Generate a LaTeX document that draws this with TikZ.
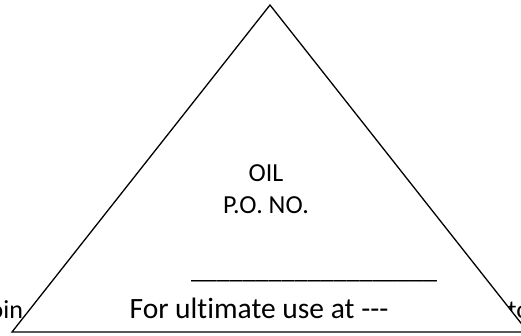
\documentclass[tikz,border=0pt]{standalone}
\usepackage{fontspec}
\setmainfont{Carlito}[Ligatures=NoCommon]
\begin{document}
\begin{tikzpicture}[x=1pt,y=-1pt,
  txt/.style={inner sep=0pt,outer sep=0pt,font=\fontsize{26}{30}\selectfont},
  big/.style={txt,font=\fontsize{29.5}{34}\selectfont},
  tri/.style={draw=black,fill=white,line width=1.3pt,line join=miter}]
\useasboundingbox (0,0) rectangle (521,336);
\clip (0,0) rectangle (521,336);
% surrounding document text, mostly hidden behind the triangle
\node[txt,anchor=base east] (lefttext) at (23,318) {poin};
\node[txt,anchor=base east] (righttext) at (530,318) {to};
% triangle
\coordinate (apex) at (270,5);
\coordinate (bl) at (12,332);
\coordinate (br) at (528,332);
\draw[tri] (apex) -- (bl) -- (br) -- cycle;
% labels
\node[txt,anchor=base] (oil) at (266,182) {OIL};
\node[txt,anchor=base] (po) at (266,214) {P.O. NO.};
\node[txt,anchor=base west] (rule) at (191,278) {\_\_\_\_\_\_\_\_\_\_\_\_\_\_\_\_\_\_\_};
\node[big,anchor=base] (use) at (259,318) {For ultimate use at -{}-{}-};
\end{tikzpicture}
\end{document}
